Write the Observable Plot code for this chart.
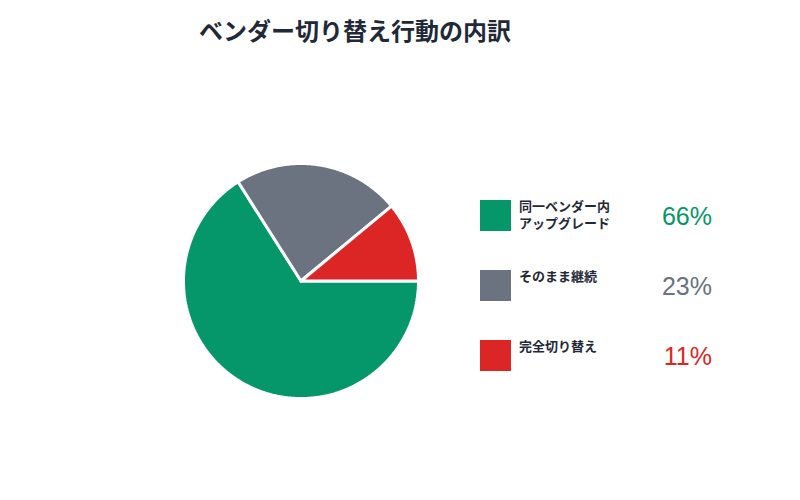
<!DOCTYPE html>
<html><head><meta charset="utf-8">
<script src="https://cdn.jsdelivr.net/npm/d3@7"></script>
<script src="https://cdn.jsdelivr.net/npm/@observablehq/plot@0.6"></script>
<style>
body{margin:0;background:#fff;font-family:"Noto Sans CJK JP",sans-serif;}
#wrap{position:relative;width:800px;height:500px;overflow:hidden;}
#title{position:absolute;left:0;width:710px;top:14px;text-align:center;font-size:24px;line-height:32px;font-weight:700;color:#1f2937;}
#chart{position:absolute;left:0;top:0;}
.row{position:absolute;left:480px;width:232px;height:31px;}
.sw{position:absolute;left:0;top:0;width:31px;height:31px;}
.lb{position:absolute;left:39px;top:-3px;font-size:13px;font-weight:700;color:#1f2937;}
.lb div{line-height:17px;height:17px;white-space:nowrap;}
.pc{position:absolute;right:0;top:50%;transform:translateY(-50%);font-family:"Liberation Sans","Noto Sans CJK JP",sans-serif;font-size:25px;line-height:28px;}
</style></head><body>
<div id="wrap"><div id="title">ベンダー切り替え行動の内訳</div><div id="chart"></div></div>
<script>
const categories = ["同一ベンダー内\nアップグレード", "そのまま継続", "完全切り替え"];
const values = [66, 23, 11];
const colors = ["#059669", "#6b7280", "#dc2626"];
const percentLabels = ["66%", "23%", "11%"];

const pie = d3.pie().sort(null).value(d => d.value).startAngle(Math.PI/2).endAngle(Math.PI/2 + 2*Math.PI);
const arcs = pie(categories.map((c,i)=>({category:c, value:values[i]})));
const pts = [];
arcs.forEach(a => {
  const c = a.data.category;
  pts.push({category:c, x:0, y:0});
  const n = Math.max(2, Math.ceil((a.endAngle - a.startAngle) / (Math.PI/360)));
  for (let k=0;k<=n;k++){
    const t = a.startAngle + (a.endAngle - a.startAngle)*k/n;
    pts.push({category:c, x:Math.sin(t), y:Math.cos(t)});
  }
  pts.push({category:c, x:0, y:0});
});

const plot = Plot.plot({
  width:800, height:500,
  marginLeft:183, marginRight:382, marginTop:163, marginBottom:102,
  x:{domain:[-1,1], axis:null},
  y:{domain:[-1,1], axis:null},
  color:{domain:categories, range:colors},
  marks:[
    Plot.line(pts, {x:"x", y:"y", z:"category", fill:"category", stroke:"white", strokeWidth:3, strokeLinejoin:"miter", curve:"linear"})
  ]
});
document.getElementById("chart").appendChild(plot);

const wrap = document.getElementById("wrap");
const rowTops = [200, 270, 340];
categories.forEach((c,i)=>{
  const r = document.createElement("div");
  r.className="row"; r.style.top = rowTops[i]+"px";
  const lines = c.split("\n").map(s=>`<div>${s}</div>`).join("");
  r.innerHTML = `<div class="sw" style="background:${colors[i]}"></div><div class="lb">${lines}</div><div class="pc" style="color:${colors[i]}">${percentLabels[i]}</div>`;
  wrap.appendChild(r);
});
</script></body></html>
